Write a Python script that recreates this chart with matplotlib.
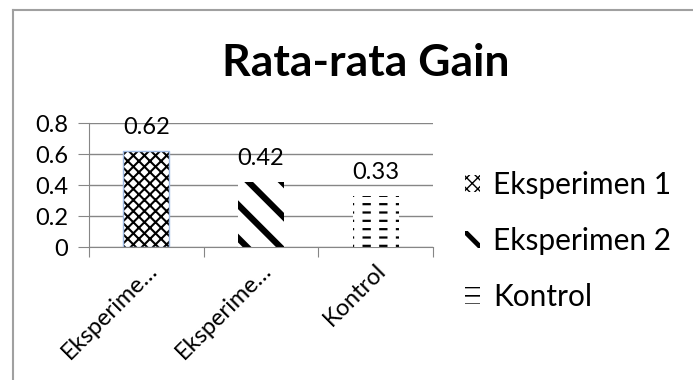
import matplotlib
matplotlib.use('Agg')
import matplotlib.pyplot as plt
from matplotlib.lines import Line2D

plt.rcParams['font.family'] = ['Lato', 'DejaVu Sans']

categories = ['Eksperimen 1', 'Eksperimen 2', 'Kontrol']
tick_labels = ['Eksperime…', 'Eksperime…', 'Kontrol']
gain = [0.62, 0.42, 0.33]
yticks = [0, 0.2, 0.4, 0.6, 0.8]

hatches = ['xxx', '\\', '--']
hatch_lw = [1.5, 4.5, 1.6]

grid_col = '#868686'

fig = plt.figure(figsize=(6.93, 3.80), dpi=100)
ax = fig.add_axes([0.1284, 0.35, 0.4964, 0.3263])

xs = range(len(gain))
handles = []
for i in xs:
    plt.rcParams['hatch.linewidth'] = hatch_lw[i]
    b = ax.bar(i, gain[i], width=0.4, color='white', edgecolor='black',
               hatch=hatches[i], linewidth=0, label=categories[i], zorder=2)
    handles.append(b)

# light blue outline of the first bar
ax.bar(0, gain[0], width=0.4, fill=False, edgecolor='#9DB9E3', linewidth=1, zorder=3)
# break the Kontrol lines into dashes
plt.rcParams['hatch.linewidth'] = 6
ax.bar(2, gain[2], width=0.4, fill=False, edgecolor='white', hatch='|', linewidth=0, zorder=3)
plt.rcParams['hatch.linewidth'] = 1.0

for i in xs:
    ax.annotate('%.2f' % gain[i], (i, gain[i]), xytext=(0, 9), textcoords='offset points',
                ha='center', va='bottom', fontsize=17)

ax.set_xlim(-0.5, 2.5)
ax.set_ylim(0, 0.8)
ax.set_yticks(yticks)
ax.set_yticklabels(['0' if v == 0 else '%.1f' % v for v in yticks], fontsize=17)
ax.yaxis.grid(True, color=grid_col, linewidth=1)
ax.set_axisbelow(True)
ax.tick_params(axis='y', length=8, color=grid_col, pad=7)
ax.set_xticks([-0.5, 0.5, 1.5, 2.5])
ax.set_xticklabels([])
ax.set_xticks(list(xs), minor=True)
ax.set_xticklabels(tick_labels, minor=True, rotation=45, ha='right',
                   rotation_mode='anchor', fontsize=17)
ax.tick_params(axis='x', which='major', length=7, color=grid_col)
ax.tick_params(axis='x', which='minor', length=0, pad=9)
for s in ['top', 'right']:
    ax.spines[s].set_visible(False)
for s in ['left', 'bottom']:
    ax.spines[s].set_color(grid_col)

fig.text(0.528, 0.835, 'Rata-rata Gain', ha='center', va='center',
         fontsize=32, fontweight='bold')

leg = ax.legend(handles=handles, loc='center left', bbox_to_anchor=(0.632, 0.366),
                bbox_transform=fig.transFigure, frameon=False, fontsize=21.5,
                handlelength=0.5, handleheight=0.5, handletextpad=0.45, labelspacing=0.93)
for p, lw in zip(leg.get_patches(), [1.0, 3.5, 1.2]):
    p._hatch_linewidth = lw

# chart border (only left and top visible in the reference)
fig.add_artist(Line2D([13 / 693, 13 / 693], [0, 1 - 10 / 380], color='#a0a0a0', linewidth=1.5))
fig.add_artist(Line2D([13 / 693, 1], [1 - 10 / 380, 1 - 10 / 380], color='#a0a0a0', linewidth=1.5))

fig.savefig('out.png', dpi=100)
